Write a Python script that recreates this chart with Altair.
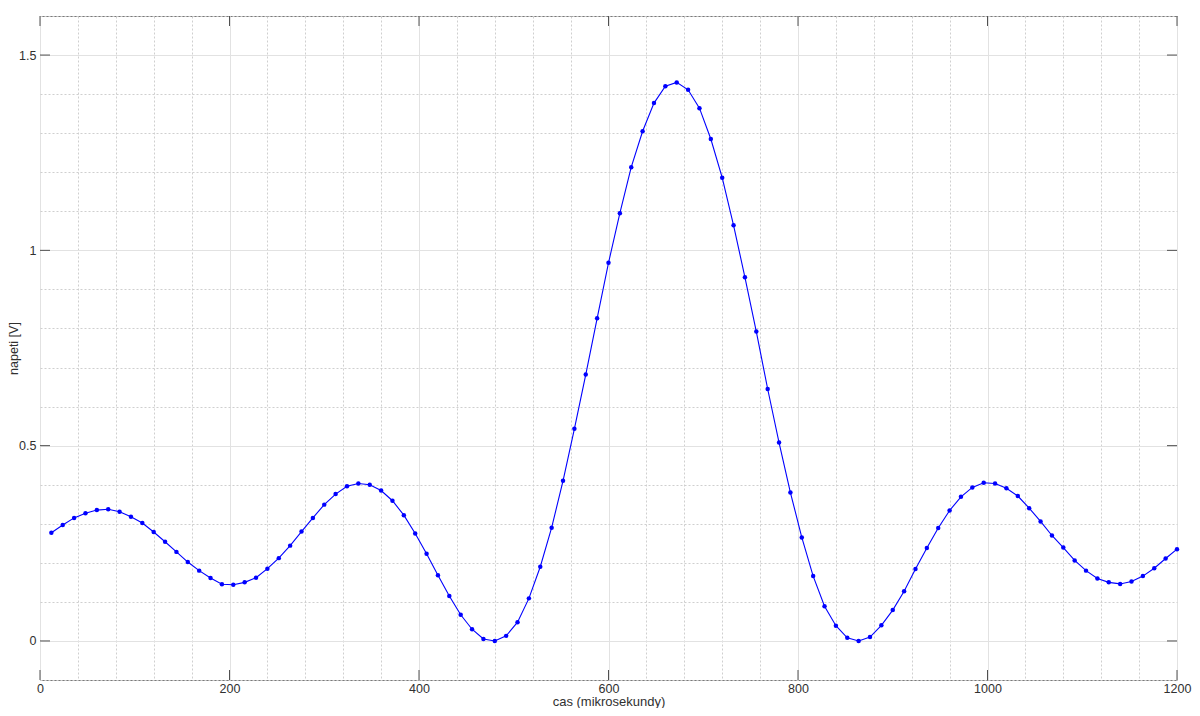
import altair as alt
import pandas as pd

# ---- data ----
time_us = list(range(12, 1201, 12))
voltage = [
    0.277, 0.297, 0.315, 0.327, 0.335, 0.337, 0.331, 0.318, 0.302, 0.279,
    0.254, 0.228, 0.202, 0.180, 0.161, 0.145, 0.144, 0.150, 0.162, 0.185,
    0.212, 0.244, 0.280, 0.315, 0.349, 0.376, 0.396, 0.403, 0.400, 0.385,
    0.359, 0.322, 0.275, 0.223, 0.168, 0.115, 0.067, 0.030, 0.005, 0.000,
    0.013, 0.048, 0.109, 0.190, 0.290, 0.410, 0.543, 0.682, 0.826, 0.968,
    1.095, 1.213, 1.305, 1.377, 1.420, 1.430, 1.411, 1.364, 1.285, 1.186,
    1.064, 0.931, 0.792, 0.645, 0.508, 0.380, 0.265, 0.166, 0.089, 0.039,
    0.008, 0.000, 0.010, 0.040, 0.079, 0.127, 0.184, 0.238, 0.289, 0.334,
    0.369, 0.393, 0.405, 0.403, 0.391, 0.371, 0.340, 0.306, 0.270, 0.239,
    0.206, 0.180, 0.160, 0.150, 0.146, 0.152, 0.166, 0.186, 0.211, 0.235,
]

x_major_ticks = [0, 200, 400, 600, 800, 1000, 1200]
x_grid_values = [0, 40, 80, 120, 160, 200, 240, 280, 320, 360, 400, 440, 480,
                 520, 560, 600, 640, 680, 720, 760, 800, 840, 880, 920, 960,
                 1000, 1040, 1080, 1120, 1160, 1200]
y_major_ticks = [0.0, 0.5, 1.0, 1.5]
y_grid_values = [-0.1, 0.0, 0.1, 0.2, 0.3, 0.4, 0.5, 0.6, 0.7, 0.8, 0.9,
                 1.0, 1.1, 1.2, 1.3, 1.4, 1.5, 1.6]

W, H = 1137, 664
TICK = 10
FONT = "Liberation Sans"
TEXT = "#303030"

df = pd.DataFrame({"t": time_us, "v": voltage})
xt = pd.DataFrame({"t": x_major_ticks})
yt = pd.DataFrame({"v": y_major_ticks})

x_scale = alt.Scale(domain=[0, 1200], nice=False, zero=False)
y_scale = alt.Scale(domain=[-0.1, 1.6], nice=False, zero=False)

x_major_test = "datum.value % 200 === 0"
y_major_test = "abs(datum.value % 0.5) < 1e-6"

x_axis = alt.Axis(
    values=x_grid_values,
    grid=True,
    gridDash={"condition": {"test": x_major_test, "value": []}, "value": [2, 2]},
    gridColor={"condition": {"test": x_major_test, "value": "#e2e2e2"}, "value": "#cfcfcf"},
    gridWidth=1,
    ticks=False,
    domain=False,
    labelExpr=f"{x_major_test} ? format(datum.value, 'd') : ''",
    labelFlush=False,
    labelOverlap=False,
    labelPadding=2,
    title="cas (mikrosekundy)",
    titlePadding=1,
    titleFontSize=13,
)
y_axis = alt.Axis(
    values=y_grid_values,
    grid=True,
    gridDash={"condition": {"test": y_major_test, "value": []}, "value": [2, 2]},
    gridColor={"condition": {"test": y_major_test, "value": "#e2e2e2"}, "value": "#cfcfcf"},
    gridWidth=1,
    ticks=False,
    domain=False,
    labelExpr=f"{y_major_test} ? format(datum.value, '') : ''",
    labelFlush=False,
    labelOverlap=False,
    labelPadding=4,
    title="napeti [V]",
    titlePadding=-2,
    titleFontSize=12.5,
)

X = alt.X("t:Q", scale=x_scale, axis=x_axis)
Y = alt.Y("v:Q", scale=y_scale, axis=y_axis)

line = alt.Chart(df).mark_line(
    color="#0000ff", strokeWidth=1.1,
    point=alt.OverlayMarkDef(filled=True, size=20, color="#0000ff", opacity=1),
).encode(x=X, y=Y)

tick_style = dict(color="#505050", strokeWidth=1)

bottom_ticks = alt.Chart(xt).mark_rule(**tick_style).encode(
    x=X, y=alt.value(H), y2=alt.value(H - TICK),
)
top_ticks = alt.Chart(xt).mark_rule(**tick_style).encode(
    x=X, y=alt.value(0), y2=alt.value(TICK),
)
left_ticks = alt.Chart(yt).mark_rule(**tick_style).encode(
    y=Y, x=alt.value(0), x2=alt.value(TICK),
)
right_ticks = alt.Chart(yt).mark_rule(**tick_style).encode(
    y=Y, x=alt.value(W), x2=alt.value(W - TICK),
)

chart = alt.layer(line, bottom_ticks, top_ticks, left_ticks, right_ticks).properties(
    width=W, height=H,
    autosize=alt.AutoSizeParams(type="none"),
    padding={"left": 32, "top": 8, "right": 15, "bottom": 28},
    background="white",
).configure_view(
    stroke="#7a7a7a", strokeWidth=1,
).configure_axis(
    labelFont=FONT, titleFont=FONT,
    labelFontSize=12.5,
    labelColor=TEXT, titleColor=TEXT,
    titleFontWeight="normal",
)

chart.save("out.html", embed_options={"renderer": "svg", "actions": False})
